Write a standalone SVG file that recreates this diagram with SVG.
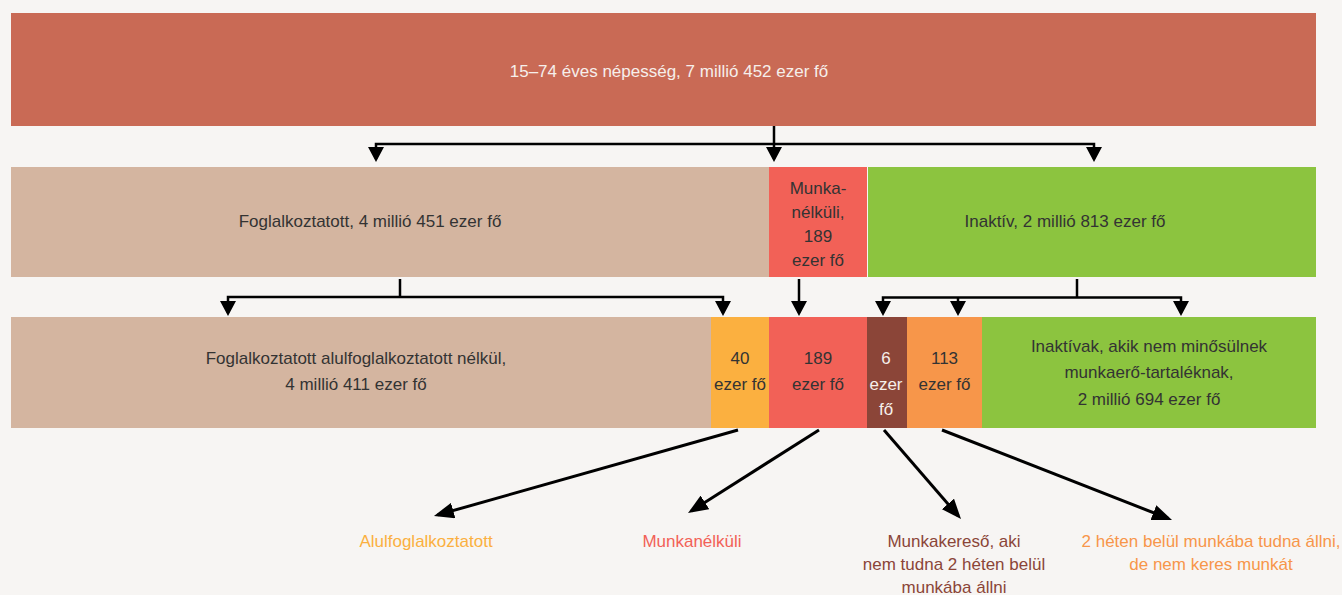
<svg xmlns="http://www.w3.org/2000/svg" width="1342" height="595" viewBox="0 0 1342 595">
<style>
text{font-family:"Liberation Sans",Arial,sans-serif;font-size:17px;text-anchor:middle;fill:#333}
.w{fill:#f6efeb}
.c{fill:none;stroke:#000;stroke-width:2.5}
.d{fill:none;stroke:#000;stroke-width:3}
</style>
<defs>
<marker id="tri" viewBox="0 0 15 16" refX="12" refY="8" markerWidth="15" markerHeight="16" markerUnits="userSpaceOnUse" orient="auto-start-reverse"><path d="M0,0 L15,8 L0,16 z" fill="#000"/></marker>
<marker id="arr" viewBox="0 0 20 16" refX="16" refY="8" markerWidth="20" markerHeight="16" markerUnits="userSpaceOnUse" orient="auto"><path d="M0,0 L20,8 L0,16 z" fill="#000"/></marker>
</defs>
<rect width="1342" height="595" fill="#f7f5f3"/>
<g id="pop"><rect x="11" y="13" width="1305" height="113" fill="#c96a55"/><text class="w" x="669" y="77">15–74 éves népesség, 7 millió 452 ezer fő</text></g>
<g id="employed"><rect x="11" y="167" width="758" height="110" fill="#d4b5a0"/><text x="370" y="227">Foglalkoztatott, 4 millió 451 ezer fő</text></g>
<g id="unemployed"><rect x="769" y="167" width="98" height="110" fill="#f26157"/><text x="818" y="194">Munka-</text><text x="818" y="218">nélküli,</text><text x="818" y="242">189</text><text x="818" y="266">ezer fő</text></g>
<g id="inactive"><rect x="868" y="167" width="448" height="110" fill="#8cc43f"/><text x="1065" y="227">Inaktív, 2 millió 813 ezer fő</text></g>
<g id="emp-full"><rect x="11" y="317" width="700" height="111" fill="#d4b5a0"/><text x="356" y="364">Foglalkoztatott alulfoglalkoztatott nélkül,</text><text x="356" y="390">4 millió 411 ezer fő</text></g>
<g id="under"><rect x="711" y="317" width="58" height="111" fill="#fbb040"/><text x="740" y="364">40</text><text x="740" y="390">ezer fő</text></g>
<g id="unemp2"><rect x="769" y="317" width="98" height="111" fill="#f26157"/><text x="818" y="364">189</text><text x="818" y="390">ezer fő</text></g>
<g id="seeker"><rect x="867" y="317" width="40" height="111" fill="#8b4538"/><text class="w" x="886" y="364">6</text><text class="w" x="886" y="390">ezer</text><text class="w" x="886" y="415">fő</text></g>
<g id="avail"><rect x="907" y="317" width="75" height="111" fill="#f7964a"/><text x="944.5" y="364">113</text><text x="944.5" y="390">ezer fő</text></g>
<g id="inact-rest"><rect x="982" y="317" width="334" height="111" fill="#8cc43f"/><text x="1149" y="352">Inaktívak, akik nem minősülnek</text><text x="1149" y="378">munkaerő-tartaléknak,</text><text x="1149" y="405">2 millió 694 ezer fő</text></g>
<g id="lbl-under"><text x="426" y="547" style="fill:#fbb040">Alulfoglalkoztatott</text></g>
<g id="lbl-unemp"><text x="692" y="547" style="fill:#f26157">Munkanélküli</text></g>
<g id="lbl-seeker" style="fill:#8b4538"><text x="954" y="547" style="fill:#8b4538">Munkakereső, aki</text><text x="954" y="570" style="fill:#8b4538">nem tudna 2 héten belül</text><text x="954" y="593" style="fill:#8b4538">munkába állni</text></g>
<g id="lbl-avail"><text x="1211" y="547" style="fill:#f7964a">2 héten belül munkába tudna állni,</text><text x="1211" y="570" style="fill:#f7964a">de nem keres munkát</text></g>
<g id="connectors">
<path class="c" d="M376,159 V144 H1094 V159" marker-start="url(#tri)" marker-end="url(#tri)"/>
<path class="c" d="M774,126 V159" marker-end="url(#tri)"/>
<path class="c" d="M228,313 V297 H723 V313" marker-start="url(#tri)" marker-end="url(#tri)"/>
<path class="c" d="M400,279 V297"/>
<path class="c" d="M799,279 V313" marker-end="url(#tri)"/>
<path class="c" d="M883,313 V297.5 H1181 V313" marker-start="url(#tri)" marker-end="url(#tri)"/>
<path class="c" d="M958,297.5 V313" marker-end="url(#tri)"/>
<path class="c" d="M1077,279 V297.5"/>
<path class="d" d="M738,430 L437.8,514.9" marker-end="url(#arr)"/>
<path class="d" d="M819,430 L691.4,510.9" marker-end="url(#arr)"/>
<path class="d" d="M884,430 L958.4,516" marker-end="url(#arr)"/>
<path class="d" d="M942,430 L1168.3,518.5" marker-end="url(#arr)"/>
</g>
</svg>
